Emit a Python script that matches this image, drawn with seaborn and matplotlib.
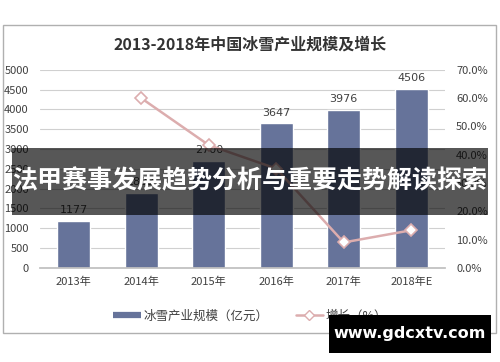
import matplotlib
matplotlib.use("Agg")
import matplotlib.pyplot as plt
import seaborn as sns
import pandas as pd
from matplotlib.lines import Line2D
from matplotlib.patches import Rectangle
from matplotlib.ticker import FuncFormatter, MultipleLocator

# data
years = ["2013年", "2014年", "2015年", "2016年", "2017年", "2018年E"]
scale = [1177, 1883, 2700, 3647, 3976, 4506]          # 亿元
growth = [None, 60.0, 43.4, 35.1, 9.0, 13.3]          # %

bar_color = "#66739a"
line_color = "#dcadae"
txt = "#404040"

sns.set_theme(style="white")
plt.rcParams['font.family'] = ['Noto Sans CJK SC', 'DejaVu Sans']

df = pd.DataFrame({"year": years, "scale": scale, "growth": growth})

fig = plt.figure(figsize=(5, 3.62), dpi=100)
ax = fig.add_axes([0.08, 0.26, 0.81, 0.547])

sns.barplot(data=df, x="year", y="scale", color=bar_color, width=0.49,
            saturation=1, ax=ax, zorder=2)
ax.set_ylim(0, 5000)
ax.set_xlim(-0.5, 5.5)
ax.yaxis.set_major_locator(MultipleLocator(500))
ax.grid(axis="y", color="#d0d0d0", linewidth=0.8, zorder=0)
ax.set_axisbelow(True)
for s in ["top", "right", "left"]:
    ax.spines[s].set_visible(False)
ax.spines["bottom"].set_color("#bfbfbf")
ax.set_xlabel("")
ax.set_ylabel("")
ax.tick_params(axis="y", length=0, labelsize=8, labelcolor=txt, pad=8)
ax.tick_params(axis="x", length=0, labelsize=8, labelcolor=txt, pad=6)
# category boundary ticks
ax.set_xticks([i - 0.5 for i in range(7)], minor=True)
ax.tick_params(axis="x", which="minor", length=4, color="#bfbfbf", direction="out")

for i, v in enumerate(scale):
    ax.text(i, v + 150, str(v), ha="center", va="bottom", fontsize=8, color=txt,
            family="DejaVu Sans")

ax2 = ax.twinx()
sub = df.dropna()
sns.lineplot(x=sub.index.values, y=sub["growth"].values, ax=ax2, color=line_color,
             linewidth=1.8, marker="D", markersize=6, markerfacecolor="white",
             markeredgecolor=line_color, markeredgewidth=1.2, zorder=3)
ax2.set_ylim(0, 70)
ax2.yaxis.set_major_locator(MultipleLocator(10))
ax2.yaxis.set_major_formatter(FuncFormatter(lambda v, p: f"{v:.1f}%"))
for s in ["top", "right", "left", "bottom"]:
    ax2.spines[s].set_visible(False)
ax2.tick_params(axis="y", length=0, labelsize=8, labelcolor=txt, pad=8)
ax2.grid(False)

fig.text(0.5, 0.876, "2013-2018年中国冰雪产业规模及增长", ha="center", va="center",
         fontsize=11.5, fontweight="bold", color="#333333")

handles = [Line2D([0], [0], color=bar_color, linewidth=4.5, solid_capstyle="butt"),
           Line2D([0], [0], color=line_color, linewidth=1.8, marker="D",
                  markersize=5, markerfacecolor="white", markeredgecolor=line_color)]
fig.legend(handles, ["冰雪产业规模（亿元）", "增长（%）"], loc="center",
           bbox_to_anchor=(0.5, 0.127), ncol=2, frameon=False, fontsize=9,
           handlelength=2.2, handletextpad=0.2, columnspacing=2.2,
           labelcolor=txt)

# chart frame
fig.patches.append(Rectangle((0.006, 0.08), 0.986, 0.851, transform=fig.transFigure,
                             fill=False, edgecolor="#b0b0b0", linewidth=1, zorder=0))

# overlay banner
fig.patches.append(Rectangle((0.024, 0.406), 0.952, 0.185, transform=fig.transFigure,
                             facecolor="black", alpha=0.66, edgecolor="none", zorder=10))
fig.text(0.5, 0.4985, "法甲赛事发展趋势分析与重要走势解读探索", ha="center", va="center",
         fontsize=18, fontweight="bold", color="white", zorder=11)

# watermark
fig.patches.append(Rectangle((0.658, 0.025), 0.324, 0.105, transform=fig.transFigure,
                             facecolor="black", edgecolor="none", zorder=10))
fig.text(0.82, 0.08, "www.gdcxtv.com", ha="center", va="center", fontsize=11.5,
         fontweight="bold", color="white", family="DejaVu Sans", zorder=11)

fig.savefig("out.png", dpi=100)
